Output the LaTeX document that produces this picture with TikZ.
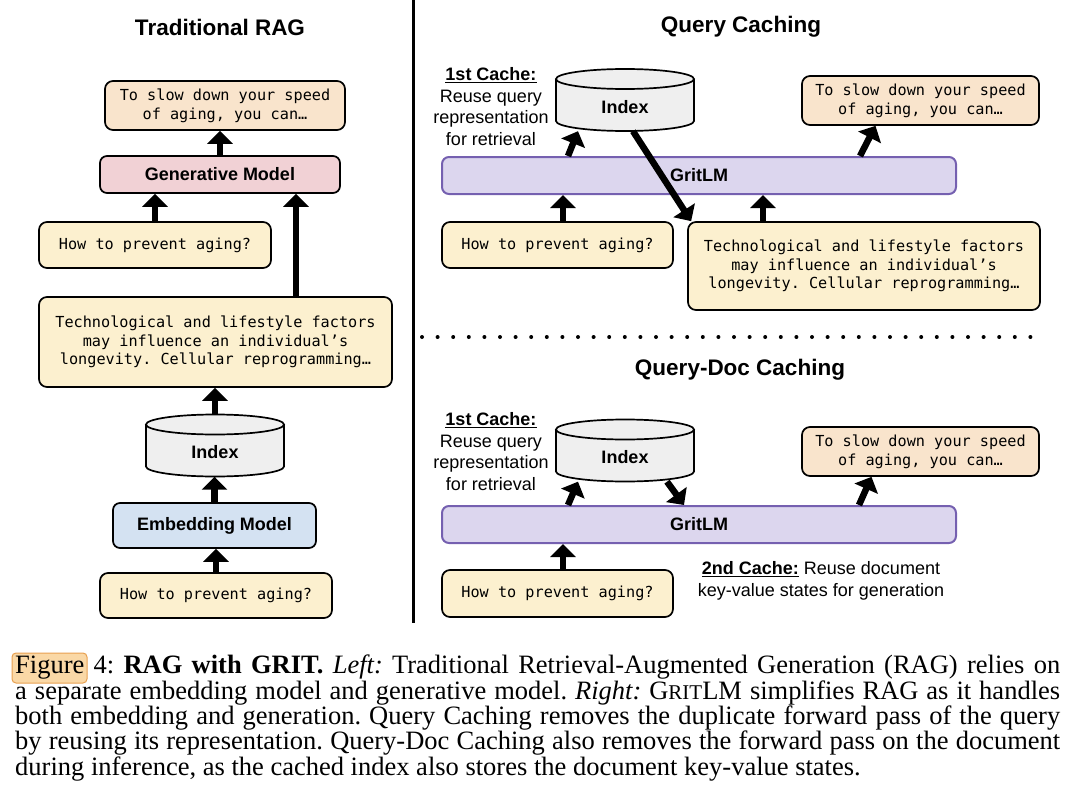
\documentclass[tikz,border=0pt]{standalone}
\usepackage{fontspec}
\setmainfont{Liberation Serif}
\setsansfont{Liberation Sans}
\setmonofont{DejaVu Sans Mono}
\usepackage{tikz}
\usetikzlibrary{calc,arrows.meta}

\definecolor{qcream}{HTML}{FCF0CF}
\definecolor{apeach}{HTML}{F9E4CC}
\definecolor{genpink}{HTML}{F1D1D5}
\definecolor{embblue}{HTML}{D4E2F2}
\definecolor{idxgray}{HTML}{EFEFEF}
\definecolor{gritfill}{HTML}{DCD6EE}
\definecolor{gritline}{HTML}{7560B0}
\definecolor{hlfill}{HTML}{FAD8A6}
\definecolor{hlline}{HTML}{E8A050}

\tikzset{
	boxline/.style={draw=black, line width=1.7pt},
	txtbox/.style={boxline, rounded corners=8pt, inner sep=0pt, align=center,
		font=\ttfamily\fontsize{15.2}{18.7}\selectfont},
	qbox/.style={txtbox, fill=qcream},
	abox/.style={txtbox, fill=apeach},
	modelbox/.style={boxline, rounded corners=7pt, inner sep=0pt,
		font=\sffamily\bfseries\fontsize{18}{21}\selectfont},
	gritbox/.style={modelbox, draw=gritline, line width=2pt, fill=gritfill},
	dbnode/.style={inner sep=0pt, minimum width=138pt, minimum height=62pt,
		font=\sffamily\bfseries\fontsize{18}{21}\selectfont},
	title/.style={font=\sffamily\bfseries\fontsize{22.5}{27}\selectfont},
	note/.style={align=center, inner sep=0pt, font=\sffamily\fontsize{18}{21.5}\selectfont},
	arr/.style={line width=6.5pt, -{Triangle[width=25pt,length=13pt]}},
}

% cylinder for the index, centred at (#1,#2), node name #3, text #4
\def\dbshape(#1,#2)#3#4{%
	\fill[idxgray] (#1-69,#2-21) rectangle (#1+69,#2+21);
	\fill[idxgray] (#1,#2+21) ellipse (69 and 10);
	\draw[boxline] (#1-69,#2-21) -- (#1-69,#2+21) arc (180:0:69 and 10) -- (#1+69,#2-21);
	\draw[boxline, fill=idxgray] (#1,#2-21) ellipse (69 and 10);
	\node[dbnode] (#3) at (#1,#2) {\raisebox{-13pt}[0pt][0pt]{#4}};
}

\begin{document}
\begin{tikzpicture}[x=1pt, y=-1pt]
		%%%%% START %%%%%
		\useasboundingbox (0,0) rectangle (1080,811);
		
		%% left: traditional RAG
		\node[title] (ragtitle) at (220,27) {Traditional RAG};
		\node[abox, minimum width=240pt, minimum height=49pt] (ragout) at (225,105.5) {To slow down your speed\\of aging, you can…};
		\node[modelbox, fill=genpink, minimum width=240pt, minimum height=37pt] (raggen) at (220,174.5) {Generative Model};
		\node[qbox, minimum width=232pt, minimum height=46pt] (ragquery) at (155,245) {How to prevent aging?};
		\node[qbox, minimum width=353pt, minimum height=90pt] (ragdoc) at (215.5,342) {Technological and lifestyle factors\\may influence an individual’s\\longevity. Cellular reprogramming…};
		\dbshape(215,445.5){ragindex}{Index}
		\node[modelbox, fill=embblue, minimum width=203pt, minimum height=45pt] (ragemb) at (214.5,525.5) {Embedding Model};
		\node[qbox, minimum width=232pt, minimum height=45pt] (ragquery2) at (216,595.5) {How to prevent aging?};
		
		\draw[arr] (raggen.north) -- (raggen.north |- ragout.south);
		\draw[arr] (ragquery.north) -- (ragquery.north |- raggen.south);
		\coordinate (ragtap) at ([xshift=80.5pt]ragdoc.north);
		\draw[arr] (ragtap) -- (ragtap |- raggen.south);
		\draw[arr] (ragindex.north) -- (ragindex.north |- ragdoc.south);
		\draw[arr] (ragemb.north) -- (ragemb.north |- ragindex.south);
		\draw[arr] (ragquery2.north) -- (ragquery2.north |- ragemb.south);
		
		\draw[line width=3pt] (413,0) -- (413,623);
		
		%% right top: query caching
		\node[title] (qctitle) at (741,27) {Query Caching};
		\node[note] (qcnote) at (491,106.5) {\underline{\textbf{1st Cache:}}\\Reuse query\\representation\\for retrieval};
		\dbshape(625,100){qcindex}{Index}
		\node[abox, minimum width=237pt, minimum height=49pt] (qcout) at (920.5,100.5) {To slow down your speed\\of aging, you can…};
		\node[gritbox, minimum width=514pt, minimum height=37pt] (qcgrit) at (699,175.5) {GritLM};
		\node[qbox, minimum width=231pt, minimum height=46pt] (qcquery) at (557.5,245) {How to prevent aging?};
		\node[qbox, minimum width=352pt, minimum height=88pt] (qcdoc) at (864,266) {Technological and lifestyle factors\\may influence an individual’s\\longevity. Cellular reprogramming…};
		
		\draw[arr] ([xshift=-131pt]qcgrit.north) -- ([xshift=-47pt]qcindex.south);
		\draw[arr] ([xshift=161pt]qcgrit.north) -- ([xshift=-45pt]qcout.south);
		\draw[arr] ([xshift=8pt]qcindex.south) -- ([xshift=4pt]qcdoc.north west);
		\coordinate (qcq) at ([xshift=5.5pt]qcquery.north);
		\draw[arr] (qcq) -- (qcq |- qcgrit.south);
		\coordinate (qcd) at ([xshift=-101pt]qcdoc.north);
		\draw[arr] (qcd) -- (qcd |- qcgrit.south);
		
		\draw[line width=4pt, line cap=round, dash pattern=on 0pt off 15.6pt] (422,337) -- (1044,337);
		
		%% right bottom: query-doc caching
		\node[title] (qdtitle) at (740,370) {Query-Doc Caching};
		\node[note] (qdnote) at (491,451.5) {\underline{\textbf{1st Cache:}}\\Reuse query\\representation\\for retrieval};
		\dbshape(625,450.5){qdindex}{Index}
		\node[abox, minimum width=237pt, minimum height=49pt] (qdout) at (920.5,451.5) {To slow down your speed\\of aging, you can…};
		\node[gritbox, minimum width=514pt, minimum height=37pt] (qdgrit) at (699,524.5) {GritLM};
		\node[qbox, minimum width=231pt, minimum height=47pt] (qdquery) at (557.5,593.5) {How to prevent aging?};
		\node[note] (qdnote2) at (821,581) {\underline{\textbf{2nd Cache:}} Reuse document\\key-value states for generation};
		
		\draw[arr] ([xshift=-131pt]qdgrit.north) -- ([xshift=-47pt]qdindex.south);
		\draw[arr] ([xshift=42pt]qdindex.south) -- ([xshift=-15pt]qdgrit.north);
		\draw[arr] ([xshift=160pt]qdgrit.north) -- ([xshift=-49pt]qdout.south);
		\coordinate (qdq) at ([xshift=5.5pt]qdquery.north);
		\draw[arr] (qdq) -- (qdq |- qdgrit.south);
		
		%% caption
		\draw[hlline, fill=hlfill, line width=1pt, rounded corners=4pt] (12,653) rectangle (87,683);
		\node[anchor=north west, inner sep=0pt, text width=1045pt, align=justify,
			font=\frenchspacing\fontsize{26.5}{24}\selectfont] (caption) at (15,655) {Figure 4: \textbf{RAG with GRIT.} \textit{Left:} Traditional Retrieval-Augmented Generation (RAG) relies on\linebreak a separate embedding model and generative model. \textit{Right:} G{\fontsize{21}{24}\selectfont RIT}LM simplifies RAG as it handles\linebreak both embedding and generation. Query Caching removes the duplicate forward pass of the query\linebreak by reusing its representation. Query-Doc Caching also removes the forward pass on the document\linebreak during inference, as the cached index also stores the document key-value states.};
		
		%%%%% END %%%%%
\end{tikzpicture}
\end{document}
